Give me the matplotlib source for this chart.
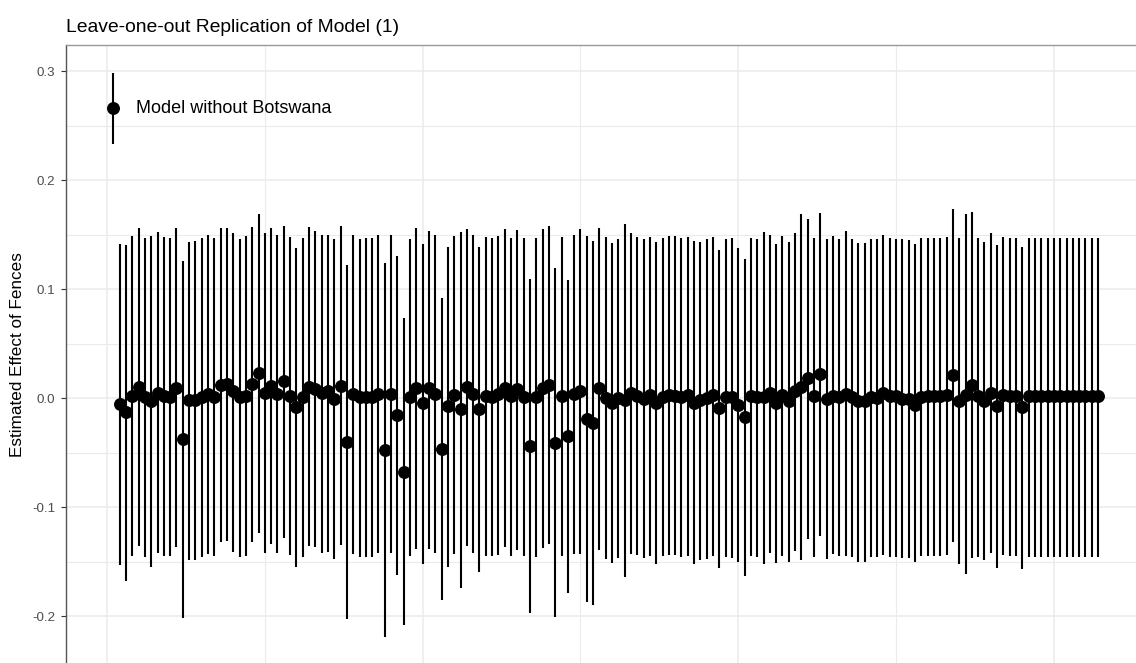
import numpy as np
import matplotlib
matplotlib.use("Agg")
import matplotlib.pyplot as plt
from matplotlib.ticker import MultipleLocator

plt.rcParams['font.family'] = ['Liberation Sans', 'DejaVu Sans']

# leave-one-out estimates, one per dropped country (x = 2..157)
est = [
    -0.0055, -0.013, 0.002, 0.010, 0.001, -0.003, 0.005, 0.002, 0.001, 0.009,
    -0.038, -0.002, -0.002, 0.001, 0.004, 0.001, 0.012, 0.0125, 0.006, 0.001,
    0.002, 0.0125, 0.023, 0.005, 0.011, 0.004, 0.0155, 0.002, -0.0085, 0.001,
    0.010, 0.008, 0.005, 0.006, -0.001, 0.011, -0.040, 0.004, 0.001, 0.001,
    0.001, 0.004, -0.048, 0.004, -0.016, -0.068, 0.001, 0.009, -0.005, 0.009,
    0.004, -0.047, -0.007, 0.003, -0.010, 0.010, 0.004, -0.010, 0.002, 0.001,
    0.004, 0.009, 0.002, 0.008, 0.001, -0.044, 0.001, 0.009, 0.012, -0.041,
    0.002, -0.035, 0.004, 0.006, -0.019, -0.023, 0.009, 0.000, -0.005, 0.000,
    -0.002, 0.005, 0.002, -0.001, 0.003, -0.005, 0.001, 0.003, 0.002, 0.001,
    0.003, -0.005, -0.002, 0.000, 0.003, -0.0095, 0.001, 0.001, -0.006, -0.017,
    0.002, 0.001, 0.001, 0.005, -0.005, 0.003, -0.003, 0.006, 0.010, 0.018,
    0.002, 0.022, -0.001, 0.002, 0.001, 0.004, 0.001, -0.003, -0.003, 0.001,
    0.000, 0.005, 0.002, 0.002, -0.001, -0.001, -0.006, 0.001, 0.002, 0.002,
    0.002, 0.003, 0.021, -0.003, 0.003, 0.012, 0.002, -0.003, 0.005, -0.007,
    0.003, 0.002, 0.002, -0.0085, 0.0015, 0.0015, 0.0015, 0.0015, 0.0015, 0.0015,
    0.0015, 0.0015, 0.0015, 0.0015, 0.0015, 0.0015,
]
upper = [
    0.141, 0.140, 0.149, 0.156, 0.147, 0.149, 0.152, 0.148, 0.147, 0.156,
    0.126, 0.143, 0.144, 0.147, 0.150, 0.147, 0.156, 0.156, 0.151, 0.146,
    0.149, 0.157, 0.169, 0.151, 0.156, 0.150, 0.158, 0.148, 0.138, 0.147,
    0.157, 0.153, 0.150, 0.150, 0.146, 0.158, 0.122, 0.150, 0.146, 0.147,
    0.147, 0.150, 0.1235, 0.150, 0.130, 0.073, 0.146, 0.156, 0.141, 0.153,
    0.150, 0.092, 0.139, 0.149, 0.152, 0.155, 0.150, 0.139, 0.148, 0.147,
    0.149, 0.155, 0.147, 0.154, 0.147, 0.109, 0.147, 0.155, 0.158, 0.1195,
    0.148, 0.108, 0.150, 0.155, 0.149, 0.144, 0.156, 0.148, 0.1425, 0.146,
    0.160, 0.151, 0.148, 0.146, 0.148, 0.1435, 0.147, 0.149, 0.149, 0.147,
    0.148, 0.144, 0.1435, 0.1455, 0.148, 0.136, 0.146, 0.147, 0.138, 0.128,
    0.147, 0.146, 0.152, 0.150, 0.141, 0.149, 0.143, 0.151, 0.1685, 0.164,
    0.147, 0.170, 0.1455, 0.149, 0.146, 0.153, 0.146, 0.1425, 0.1425, 0.146,
    0.146, 0.150, 0.147, 0.146, 0.1455, 0.145, 0.141, 0.147, 0.147, 0.147,
    0.147, 0.148, 0.173, 0.147, 0.1685, 0.171, 0.147, 0.143, 0.151, 0.140,
    0.148, 0.147, 0.147, 0.139, 0.147, 0.147, 0.147, 0.147, 0.147, 0.147,
    0.147, 0.147, 0.147, 0.147, 0.147, 0.147,
]
lower = [
    -0.153, -0.168, -0.145, -0.136, -0.146, -0.155, -0.142, -0.145, -0.145, -0.137,
    -0.2015, -0.149, -0.149, -0.146, -0.143, -0.145, -0.132, -0.131, -0.141, -0.146,
    -0.145, -0.132, -0.124, -0.142, -0.134, -0.1425, -0.128, -0.144, -0.155, -0.146,
    -0.136, -0.137, -0.142, -0.141, -0.148, -0.135, -0.203, -0.143, -0.146, -0.146,
    -0.146, -0.142, -0.219, -0.142, -0.162, -0.208, -0.145, -0.1385, -0.152, -0.1385,
    -0.1425, -0.185, -0.155, -0.143, -0.174, -0.136, -0.142, -0.160, -0.145, -0.145,
    -0.144, -0.137, -0.145, -0.139, -0.145, -0.1975, -0.146, -0.138, -0.134, -0.201,
    -0.145, -0.179, -0.143, -0.143, -0.1875, -0.190, -0.139, -0.148, -0.151, -0.147,
    -0.164, -0.143, -0.144, -0.147, -0.145, -0.1525, -0.145, -0.144, -0.144, -0.146,
    -0.145, -0.1525, -0.149, -0.148, -0.145, -0.156, -0.146, -0.147, -0.150, -0.163,
    -0.145, -0.146, -0.1525, -0.142, -0.151, -0.145, -0.150, -0.140, -0.1485, -0.129,
    -0.146, -0.127, -0.148, -0.143, -0.145, -0.145, -0.146, -0.150, -0.150, -0.146,
    -0.146, -0.144, -0.146, -0.146, -0.147, -0.147, -0.150, -0.145, -0.145, -0.145,
    -0.145, -0.144, -0.132, -0.1525, -0.161, -0.147, -0.146, -0.149, -0.1425, -0.1555,
    -0.144, -0.145, -0.145, -0.157, -0.146, -0.146, -0.146, -0.146, -0.146, -0.146,
    -0.146, -0.146, -0.146, -0.146, -0.146, -0.146,
]
x = np.arange(2, 2 + len(est))

# the labelled model at x = 1
key_x = 1
key_est = 0.266
key_lo = 0.2327
key_hi = 0.2985
key_label = "Model without Botswana"

W, H = 1136, 663
fig = plt.figure(figsize=(W / 100, H / 100), dpi=100)
ax = fig.add_axes([66 / W, 0, 1070 / W, 618 / H])

ax.set_xlim(-6.5, 163.0)
ax.set_ylim(-0.2431, 0.3239)

ax.xaxis.set_major_locator(MultipleLocator(50))
ax.xaxis.set_minor_locator(MultipleLocator(25))
ax.yaxis.set_major_locator(MultipleLocator(0.1))
ax.yaxis.set_minor_locator(MultipleLocator(0.05))
ax.grid(which='major', color='#ebebeb', lw=1.1)
ax.grid(which='minor', color='#ebebeb', lw=0.8)
ax.set_axisbelow(True)

ax.errorbar(x, est, yerr=[np.array(est) - np.array(lower), np.array(upper) - np.array(est)],
            fmt='o', color='black', ecolor='black', elinewidth=1.5,
            markersize=8.3, capsize=0)
ax.errorbar([key_x], [key_est], yerr=[[key_est - key_lo], [key_hi - key_est]],
            fmt='o', color='black', ecolor='black', elinewidth=1.5,
            markersize=8.3, capsize=0)
ax.text(4.6, key_est, key_label, fontsize=13.0, va='center', ha='left')

ax.yaxis.set_major_formatter(matplotlib.ticker.FuncFormatter(lambda v, p: f"{v:.1f}"))
ax.tick_params(axis='y', which='major', length=3.6, width=0.8, color='#333333',
               labelcolor='#4d4d4d', labelsize=9.6, pad=4)
ax.tick_params(axis='y', which='minor', length=0)
ax.tick_params(axis='x', which='both', length=0, labelbottom=False)

ax.spines['right'].set_visible(False)
ax.spines['bottom'].set_visible(False)
ax.spines['left'].set_color('#555555')
ax.spines['top'].set_color('#999999')
ax.spines['left'].set_linewidth(1.0)
ax.spines['top'].set_linewidth(1.0)

fig.text(66 / W, 1 - 31.5 / H, "Leave-one-out Replication of Model (1)",
         fontsize=13.9, ha='left', va='baseline')
fig.text(18 / W, 1 - 355 / H, "Estimated Effect of Fences", rotation=90,
         fontsize=12.3, ha='center', va='center')

fig.savefig("out.png", dpi=100)
